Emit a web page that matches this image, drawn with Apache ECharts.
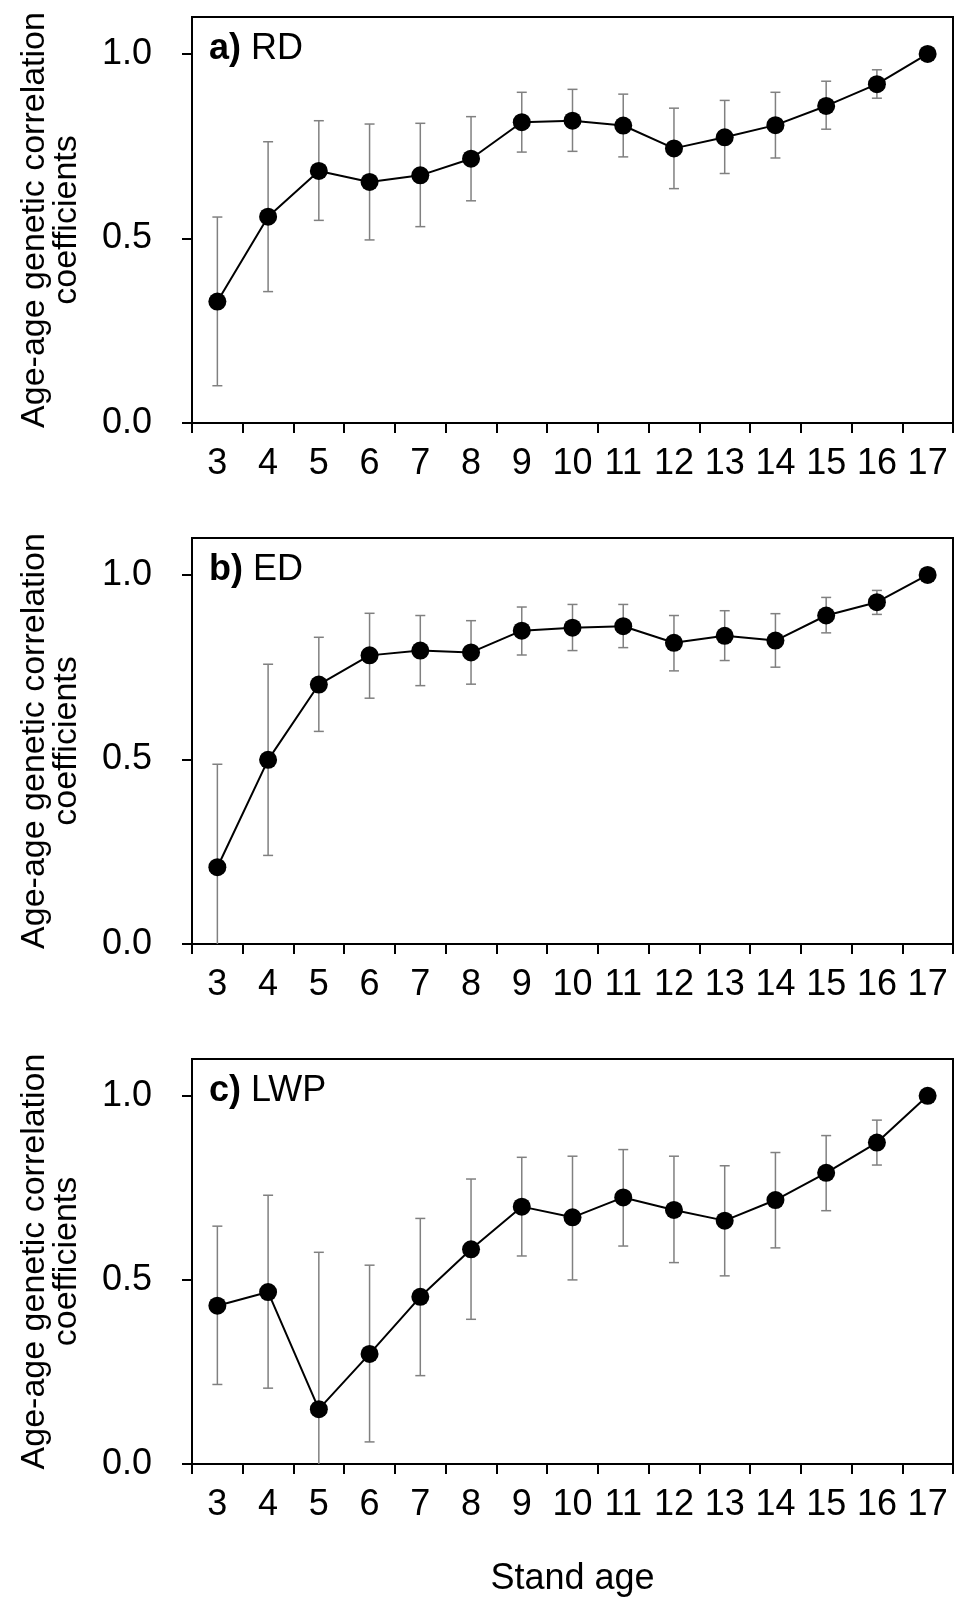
<!DOCTYPE html>
<html>
<head>
<meta charset="utf-8">
<script src="https://cdn.jsdelivr.net/npm/echarts@6/dist/echarts.min.js"></script>
<style>
  html, body { margin: 0; padding: 0; background: #fff; }
  #chart { width: 954px; height: 1598px; }
</style>
</head>
<body>
<div id="chart"></div>
<script>
// stand ages on the x axis
var ages = ['3', '4', '5', '6', '7', '8', '9', '10', '11', '12', '13', '14', '15', '16', '17'];

// a) RD
var rdMean = [0.329, 0.559, 0.683, 0.653, 0.671, 0.716, 0.815, 0.819, 0.806, 0.744, 0.774, 0.807, 0.859, 0.918, 1.0];
var rdLow  = [0.101, 0.356, 0.549, 0.496, 0.532, 0.602, 0.734, 0.736, 0.721, 0.635, 0.676, 0.718, 0.796, 0.880, null];
var rdHigh = [0.558, 0.762, 0.819, 0.810, 0.812, 0.830, 0.896, 0.904, 0.891, 0.853, 0.874, 0.896, 0.926, 0.957, null];

// b) ED
var edMean = [0.208, 0.499, 0.703, 0.782, 0.795, 0.790, 0.849, 0.857, 0.861, 0.816, 0.835, 0.822, 0.890, 0.926, 1.0];
var edLow  = [-0.071, 0.240, 0.576, 0.666, 0.700, 0.704, 0.783, 0.795, 0.803, 0.740, 0.768, 0.750, 0.843, 0.893, null];
var edHigh = [0.487, 0.758, 0.831, 0.896, 0.890, 0.876, 0.913, 0.920, 0.920, 0.890, 0.903, 0.895, 0.939, 0.958, null];

// c) LWP
var lwpMean = [0.430, 0.467, 0.149, 0.299, 0.454, 0.583, 0.699, 0.670, 0.724, 0.690, 0.661, 0.717, 0.791, 0.873, 1.0];
var lwpLow  = [0.216, 0.206, -0.277, 0.060, 0.240, 0.393, 0.565, 0.500, 0.592, 0.547, 0.511, 0.587, 0.688, 0.812, null];
var lwpHigh = [0.646, 0.730, 0.575, 0.540, 0.667, 0.774, 0.833, 0.836, 0.854, 0.836, 0.810, 0.846, 0.892, 0.934, null];

var yTicks = [0, 0.5, 1.0];

var font = 'Liberation Sans, Arial, sans-serif';
var panels = [
    {tag: 'a)', name: 'RD', mean: rdMean, low: rdLow, high: rdHigh, top: 17},
    {tag: 'b)', name: 'ED', mean: edMean, low: edLow, high: edHigh, top: 538},
    {tag: 'c)', name: 'LWP', mean: lwpMean, low: lwpLow, high: lwpHigh, top: 1059}
];

// vertical whisker with short caps
function renderErrorBar(params, api) {
    var idx = api.value(0);
    var lo = api.coord([idx, api.value(1)]);
    var hi = api.coord([idx, api.value(2)]);
    var half = 5;
    var style = {stroke: '#808080', lineWidth: 1.5};
    return {
        type: 'group',
        children: [
            {type: 'line', shape: {x1: hi[0], y1: hi[1], x2: lo[0], y2: lo[1]}, style: style},
            {type: 'line', shape: {x1: hi[0] - half, y1: hi[1], x2: hi[0] + half, y2: hi[1]}, style: style},
            {type: 'line', shape: {x1: lo[0] - half, y1: lo[1], x2: lo[0] + half, y2: lo[1]}, style: style}
        ]
    };
}

var grids = [], xAxes = [], yAxes = [], series = [], titles = [];
panels.forEach(function (p, i) {
    grids.push({
        left: 192, top: p.top, width: 761, height: 406,
        show: true, borderColor: '#000', borderWidth: 2, backgroundColor: 'transparent'
    });
    xAxes.push({
        type: 'category', gridIndex: i, data: ages, boundaryGap: true,
        axisLine: {lineStyle: {color: '#000', width: 2}},
        axisTick: {show: true, length: 10, lineStyle: {color: '#000', width: 2}},
        axisLabel: {interval: 0, color: '#000', fontSize: 36, fontFamily: font, margin: 23},
        splitLine: {show: false},
        name: i == 2 ? 'Stand age' : '',
        nameLocation: 'middle', nameGap: 97,
        nameTextStyle: {color: '#000', fontSize: 36, fontFamily: font}
    });
    yAxes.push({
        type: 'value', gridIndex: i, min: 0, max: 1.1, interval: 0.5,
        axisLine: {show: true, lineStyle: {color: '#000', width: 2}},
        axisTick: {show: true, length: 10, customValues: yTicks, lineStyle: {color: '#000', width: 2}},
        axisLabel: {
            color: '#000', fontSize: 36, fontFamily: font, margin: 40, customValues: yTicks,
            formatter: function (v) { return v.toFixed(1); }
        },
        splitLine: {show: false},
        name: 'Age-age genetic correlation\ncoefficients',
        nameLocation: 'middle', nameRotate: 90, nameGap: 109,
        nameTextStyle: {color: '#000', fontSize: 34, lineHeight: 32, fontFamily: font}
    });

    var bars = [];
    for (var k = 0; k < ages.length; k++) {
        if (p.low[k] != null) bars.push([k, p.low[k], p.high[k]]);
    }
    series.push({
        type: 'custom', xAxisIndex: i, yAxisIndex: i,
        renderItem: renderErrorBar, data: bars, clip: true, z: 2, silent: true
    });
    series.push({
        type: 'line', xAxisIndex: i, yAxisIndex: i, data: p.mean,
        symbol: 'circle', symbolSize: 18,
        itemStyle: {color: '#000'},
        lineStyle: {color: '#000', width: 2},
        z: 3, silent: true, animation: false
    });

    titles.push({
        text: '{b|' + p.tag + '} ' + p.name,
        left: 209, top: p.top + 14, padding: 0,
        textStyle: {
            color: '#000', fontSize: 36, fontWeight: 'normal', fontFamily: font,
            rich: {b: {fontSize: 36, fontWeight: 'bold', fontFamily: font, color: '#000'}}
        }
    });
});

var myChart = echarts.init(document.getElementById('chart'));
myChart.setOption({
    animation: false,
    backgroundColor: '#fff',
    title: titles,
    grid: grids,
    xAxis: xAxes,
    yAxis: yAxes,
    series: series
});
</script>
</body>
</html>
